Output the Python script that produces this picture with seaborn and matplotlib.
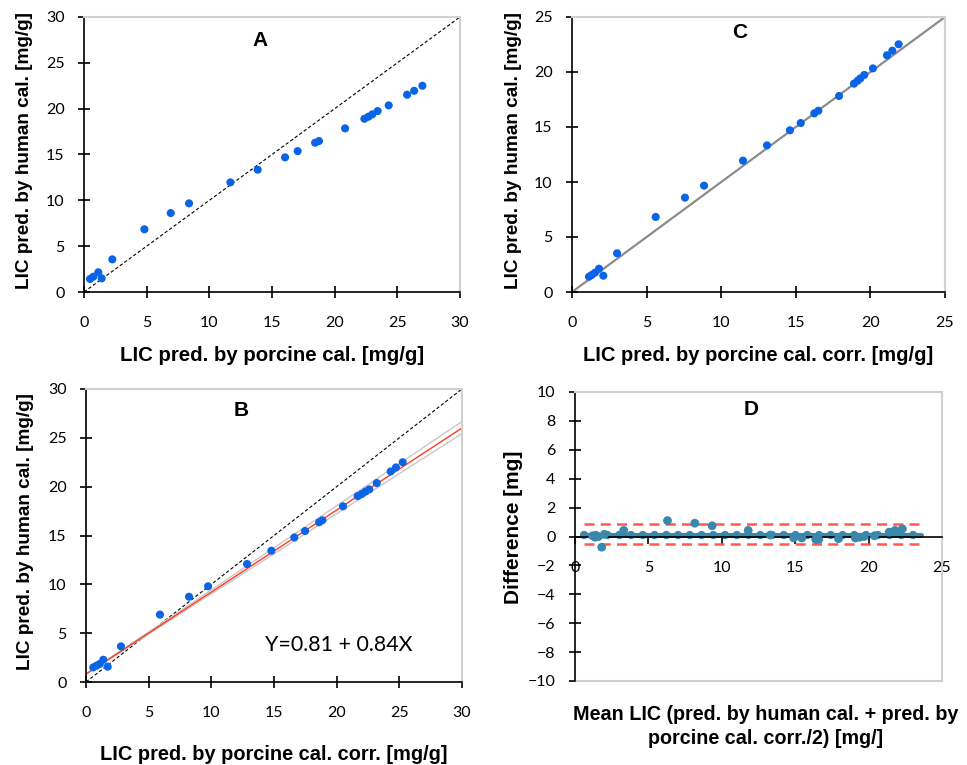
import matplotlib
matplotlib.use('Agg')
import matplotlib.pyplot as plt
import seaborn as sns
import numpy as np

# ── Datos ──────────────────────────────────────────────────
# A: porcine cal. vs human cal.
a_porcine = [0.48, 0.74, 1.14, 1.41, 2.26, 4.82, 6.92, 8.38, 11.68, 13.86, 16.04, 17.05,
             18.44, 18.75, 20.83, 22.37, 22.69, 23.0, 23.43, 24.31, 25.78, 26.34, 27.0]
a_human = [1.42, 1.67, 2.15, 1.49, 3.56, 6.84, 8.61, 9.67, 11.96, 13.34, 14.69, 15.37,
           16.28, 16.47, 17.85, 18.90, 19.12, 19.38, 19.74, 20.36, 21.52, 21.95, 22.50]

# B: porcine cal. corr. vs human cal. (regresion)
b_porcine = [0.58, 0.85, 1.10, 1.38, 1.73, 2.79, 5.90, 8.22, 9.74, 12.85, 14.79, 16.62,
             17.48, 18.60, 18.86, 20.51, 21.68, 22.0, 22.3, 22.6, 23.2, 24.31, 24.73, 25.27]
b_human = [1.50, 1.68, 1.85, 2.28, 1.57, 3.65, 6.90, 8.73, 9.80, 12.08, 13.44, 14.80,
           15.46, 16.35, 16.56, 17.99, 19.04, 19.25, 19.50, 19.72, 20.37, 21.56, 21.97, 22.50]
reg_intercept = 0.81
reg_slope = 0.84
band_slopes = [0.862, 0.821]
b_xline = [0, 30]

# C: porcine cal. corr. vs human cal.
c_porcine = [1.14, 1.32, 1.54, 1.81, 2.10, 3.02, 5.61, 7.57, 8.85, 11.46, 13.07, 14.61,
             15.33, 16.24, 16.51, 17.90, 18.90, 19.15, 19.33, 19.59, 20.17, 21.11, 21.47, 21.89]
c_human = [1.39, 1.55, 1.76, 2.12, 1.48, 3.52, 6.82, 8.58, 9.67, 11.94, 13.33, 14.70,
           15.36, 16.24, 16.48, 17.82, 18.94, 19.21, 19.42, 19.73, 20.33, 21.52, 21.94, 22.52]

# D: Bland-Altman
d_mean = [1.20, 1.36, 1.60, 1.82, 2.00, 3.32, 6.30, 8.16, 9.34, 11.80, 13.30, 14.90,
          15.45, 16.40, 16.60, 17.95, 19.10, 19.40, 19.70, 20.40, 21.40, 21.80, 22.30]
d_diff = [0.05, -0.05, 0.0, -0.74, 0.15, 0.42, 1.10, 0.92, 0.74, 0.42, 0.10, -0.10,
          -0.10, -0.20, -0.20, -0.15, -0.10, -0.05, 0.0, 0.05, 0.30, 0.42, 0.53]
d_bias = 0.12
d_limits = [0.88, -0.53]
d_span = [0.6, 23.6]

BLUE = '#0a64e8'
TEAL = '#3a88ab'
FRAME = '#d0d0d0'
LABEL_FONT = ['Liberation Sans', 'DejaVu Sans']

sns.set_theme(style='white')
plt.rcParams['font.family'] = ['Lato', 'DejaVu Sans']
plt.rcParams['text.color'] = 'black'
plt.rcParams['axes.labelcolor'] = 'black'


def marco(ax):
    for s in ['top', 'right']:
        ax.spines[s].set_color(FRAME)
        ax.spines[s].set_linewidth(1.5)
    for s in ['left', 'bottom']:
        ax.spines[s].set_color('black')
        ax.spines[s].set_linewidth(1.2)
    ax.tick_params(direction='inout', length=8, width=1.2, color='black',
                   labelsize=11.5, labelcolor='black', left=True, bottom=True)
    ax.tick_params(axis='x', pad=13)
    ax.tick_params(axis='y', pad=10)
    ax.grid(False)


def etiquetas(ax, xl, yl, xpos, ypos, letra, lpos, xs=14.7, ys=13.7):
    ax.set_xlabel(xl, fontsize=xs, fontweight='bold', family=LABEL_FONT, linespacing=1.35)
    ax.set_ylabel(yl, fontsize=ys, fontweight='bold', family=LABEL_FONT)
    ax.xaxis.set_label_coords(*xpos)
    ax.yaxis.set_label_coords(*ypos)
    ax.text(lpos[0], lpos[1], letra, transform=ax.transAxes, ha='center', va='center',
            fontsize=15, fontweight='bold', family=LABEL_FONT)


fig = plt.figure(figsize=(9.67, 7.65), dpi=100)
axA = fig.add_axes([84 / 967, 1 - 292 / 765, 376 / 967, 275 / 765])
axC = fig.add_axes([572 / 967, 1 - 292 / 765, 373 / 967, 275 / 765])
axB = fig.add_axes([86 / 967, 1 - 682 / 765, 376 / 967, 293 / 765])
axD = fig.add_axes([575 / 967, 1 - 681 / 765, 367 / 967, 289 / 765])

# ── A ──
axA.plot([0, 30], [0, 30], color='black', lw=0.8, linestyle=(0, (3, 2)))
sns.scatterplot(x=a_porcine, y=a_human, ax=axA, color=BLUE, s=34, edgecolor='none', zorder=3)
axA.set_xlim(0, 30)
axA.set_ylim(0, 30)
axA.set_xticks(range(0, 31, 5))
axA.set_yticks(range(0, 31, 5))
marco(axA)
etiquetas(axA, 'LIC pred. by porcine cal. [mg/g]', 'LIC pred. by human cal. [mg/g]',
          (0.5, -0.196), (-0.135, 0.513), 'A', (0.468, 0.916))

# ── B ──
xl = np.array(b_xline)
axB.plot(xl, xl, color='black', lw=0.8, linestyle=(0, (3, 2)))
for sl in band_slopes:
    axB.plot(xl, reg_intercept + sl * xl, color='#c8c8c8', lw=1.0)
axB.plot(xl, reg_intercept + reg_slope * xl, color='#ff3b1f', lw=1.0)
sns.scatterplot(x=b_porcine, y=b_human, ax=axB, color=BLUE, s=34, edgecolor='none', zorder=3)
axB.set_xlim(0, 30)
axB.set_ylim(0, 30)
axB.set_xticks(range(0, 31, 5))
axB.set_yticks(range(0, 31, 5))
marco(axB)
etiquetas(axB, 'LIC pred. by porcine cal. corr. [mg/g]', 'LIC pred. by human cal. [mg/g]',
          (0.5, -0.215), (-0.138, 0.513), 'B', (0.412, 0.928), xs=14.4)
axB.text(0.673, 0.126, f'Y={reg_intercept} + {reg_slope}X', transform=axB.transAxes,
         ha='center', va='center', fontsize=15.4)

# ── C ──
axC.plot([0, 25], [0, 25], color='#8c8c8c', lw=1.6)
sns.scatterplot(x=c_porcine, y=c_human, ax=axC, color=BLUE, s=34, edgecolor='none', zorder=3)
axC.set_xlim(0, 25)
axC.set_ylim(0, 25)
axC.set_xticks(range(0, 26, 5))
axC.set_yticks(range(0, 26, 5))
marco(axC)
etiquetas(axC, 'LIC pred. by porcine cal. corr. [mg/g]', 'LIC pred. by human cal. [mg/g]',
          (0.5, -0.196), (-0.134, 0.513), 'C', (0.45, 0.945), xs=14.5)

# ── D ──
for lim in d_limits:
    axD.plot(d_span, [lim, lim], color='#ff5a4f', lw=1.8, linestyle=(0, (4, 2.5)))
axD.plot(d_span, [d_bias, d_bias], color=TEAL, lw=3.6, solid_capstyle='round')
axD.plot(d_span, [d_bias, d_bias], color=TEAL, lw=6, linestyle=(0, (0.01, 1.4)),
         dash_capstyle='round')
sns.scatterplot(x=d_mean, y=d_diff, ax=axD, color=TEAL, s=40, edgecolor='none', zorder=3)
axD.set_xlim(0, 25)
axD.set_ylim(-10, 10)
axD.set_xticks(range(0, 26, 5))
axD.set_yticks(range(-10, 11, 2))
marco(axD)
axD.spines['bottom'].set_position(('data', 0))
axD.tick_params(axis='x', direction='out', length=5)
axD.axhline(-10, color=FRAME, lw=1.5, clip_on=False)
etiquetas(axD, 'Mean LIC (pred. by human cal. + pred. by\nporcine cal. corr./2) [mg/]',
          'Difference [mg]', (0.52, -0.083), (-0.142, 0.533), 'D', (0.48, 0.941),
          xs=14.2, ys=15)

fig.savefig('out.png', dpi=100)
